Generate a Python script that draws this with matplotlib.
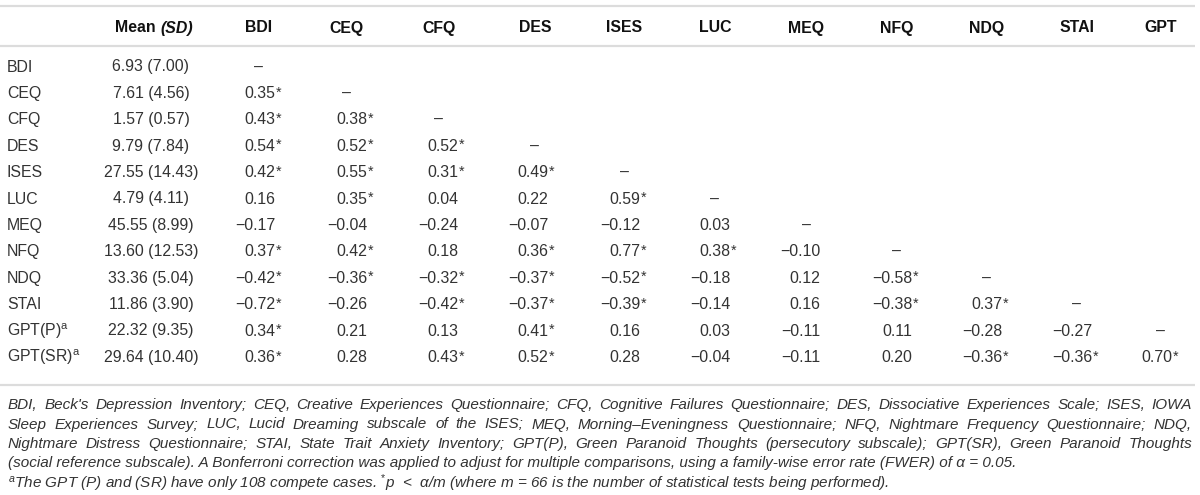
import matplotlib
matplotlib.use("Agg")
import matplotlib.pyplot as plt

plt.rcParams["font.family"] = ["Liberation Sans", "DejaVu Sans"]
plt.rcParams["mathtext.fontset"] = "custom"
plt.rcParams["mathtext.rm"] = "Liberation Sans"
plt.rcParams["mathtext.it"] = "Liberation Sans:italic"

# ---------------------------------------------------------------------
# data
# ---------------------------------------------------------------------
scales = ["BDI", "CEQ", "CFQ", "DES", "ISES", "LUC", "MEQ", "NFQ",
          "NDQ", "STAI", "GPT(P)", "GPT(SR)"]
row_sup = ["", "", "", "", "", "", "", "", "", "", "a", "a"]
col_heads = ["BDI", "CEQ", "CFQ", "DES", "ISES", "LUC", "MEQ", "NFQ",
             "NDQ", "STAI", "GPT"]

means = [6.93, 7.61, 1.57, 9.79, 27.55, 4.79, 45.55, 13.60, 33.36, 11.86,
         22.32, 29.64]
sds = [7.00, 4.56, 0.57, 7.84, 14.43, 4.11, 8.99, 12.53, 5.04, 3.90,
       9.35, 10.40]

# lower triangle of correlations, row i has i values
corr = [
    [],
    [0.35],
    [0.43, 0.38],
    [0.54, 0.52, 0.52],
    [0.42, 0.55, 0.31, 0.49],
    [0.16, 0.35, 0.04, 0.22, 0.59],
    [-0.17, -0.04, -0.24, -0.07, -0.12, 0.03],
    [0.37, 0.42, 0.18, 0.36, 0.77, 0.38, -0.10],
    [-0.42, -0.36, -0.32, -0.37, -0.52, -0.18, 0.12, -0.58],
    [-0.72, -0.26, -0.42, -0.37, -0.39, -0.14, 0.16, -0.38, 0.37],
    [0.34, 0.21, 0.13, 0.41, 0.16, 0.03, -0.11, 0.11, -0.28, -0.27],
    [0.36, 0.28, 0.43, 0.52, 0.28, -0.04, -0.11, 0.20, -0.36, -0.36, 0.70],
]
# 1 = significant after Bonferroni correction
sig = [
    [],
    [1],
    [1, 1],
    [1, 1, 1],
    [1, 1, 1, 1],
    [0, 1, 0, 0, 1],
    [0, 0, 0, 0, 0, 0],
    [1, 1, 0, 1, 1, 1, 0],
    [1, 1, 1, 1, 1, 0, 0, 1],
    [1, 0, 1, 1, 1, 0, 0, 1, 1],
    [1, 0, 0, 1, 0, 0, 0, 0, 0, 0],
    [1, 0, 1, 1, 0, 0, 0, 0, 1, 1, 1],
]

notes_justified = [
    "BDI, Beck's Depression Inventory; CEQ, Creative Experiences Questionnaire; "
    "CFQ, Cognitive Failures Questionnaire; DES, Dissociative Experiences Scale; "
    "ISES, IOWA",
    "Sleep Experiences Survey; LUC, Lucid Dreaming subscale of the ISES; MEQ, "
    "Morning\u2013Eveningness Questionnaire; NFQ, Nightmare Frequency Questionnaire; NDQ,",
    "Nightmare Distress Questionnaire; STAI, State Trait Anxiety Inventory; GPT(P), "
    "Green Paranoid Thoughts (persecutory subscale); GPT(SR), Green Paranoid Thoughts",
]
notes_plain = [
    "(social reference subscale). A Bonferroni correction was applied to adjust "
    "for multiple comparisons, using a family-wise error rate (FWER) of \u03b1 = 0.05.",
    "$^{a}$The GPT (P) and (SR) have only 108 compete cases. $^{*}$p  <  \u03b1/m "
    "(where m = 66 is the number of statistical tests being performed).",
]

# ---------------------------------------------------------------------
# layout (pixels)
# ---------------------------------------------------------------------
W, H = 1200, 495
label_x = 7
mean_x = 151
head_x = [259, 346, 439, 535, 624, 715, 806, 897, 987, 1077, 1161]
num_right = [275, 367, 458, 548, 640, 730, 820, 912, 1002, 1092, 1172]
head_y = 28
row_y0, row_dy = 67, 26.4
rule_ys = [6, 46, 385]
note_y0, note_dy = 405, 19.5

body_col = "#333333"
head_col = "#111111"
rule_col = "#dcdcdc"
fs = 11.4
fs_note = 11.0

fig = plt.figure(figsize=(W / 100, H / 100), dpi=100)
ax = fig.add_axes([0, 0, 1, 1])
ax.set_xlim(0, W)
ax.set_ylim(H, 0)
ax.axis("off")
renderer = fig.canvas.get_renderer()

for y in rule_ys:
    ax.plot([0, W - 5], [y, y], color=rule_col, lw=1.6, solid_capstyle="butt")

# header: "Mean " bold + "(SD)" bold italic, centred together
t1 = ax.text(0, head_y, "Mean ", ha="left", va="center", fontsize=fs,
             fontweight="bold", color=head_col)
t2 = ax.text(0, head_y, "(SD)", ha="left", va="center", fontsize=fs,
             fontweight="bold", style="italic", color=head_col)
w1 = t1.get_window_extent(renderer).width
w2 = t2.get_window_extent(renderer).width
start = mean_x + 3 - (w1 + w2) / 2
t1.set_x(start)
t2.set_x(start + w1)

for hx, name in zip(head_x, col_heads):
    ax.text(hx, head_y, name, ha="center", va="center", fontsize=fs,
            fontweight="bold", color=head_col)


def fmt(v):
    s = f"{abs(v):.2f}"
    return ("\u2212" + s) if v < 0 else s


for i, name in enumerate(scales):
    y = row_y0 + i * row_dy
    lab = name + (f"$^{{\\mathrm{{{row_sup[i]}}}}}$" if row_sup[i] else "")
    ax.text(label_x, y, lab, ha="left", va="center", fontsize=fs, color=body_col)
    ax.text(mean_x, y, f"{means[i]:.2f} ({sds[i]:.2f})", ha="center",
            va="center", fontsize=fs, color=body_col)
    for j, v in enumerate(corr[i]):
        ax.text(num_right[j], y, fmt(v), ha="right", va="center",
                fontsize=fs, color=body_col)
        if sig[i][j]:
            ax.text(num_right[j] + 0.5, y - 1, "*", ha="left", va="center",
                    fontsize=fs * 0.9, color=body_col)
    if i < len(col_heads):
        ax.text(head_x[i], y, "\u2013", ha="center", va="center",
                fontsize=fs, color=body_col)

# footnotes
x0, x1 = label_x + 1, 1192
for k, line in enumerate(notes_justified):
    y = note_y0 + k * note_dy
    words = line.split(" ")
    texts = [ax.text(0, y, w, ha="left", va="center", fontsize=fs_note,
                     style="italic", color=body_col) for w in words]
    widths = [t.get_window_extent(renderer).width for t in texts]
    gap = (x1 - x0 - sum(widths)) / (len(words) - 1)
    x = x0
    for t, w in zip(texts, widths):
        t.set_x(x)
        x += w + gap

for k, line in enumerate(notes_plain):
    y = note_y0 + (len(notes_justified) + k) * note_dy
    ax.text(x0, y, line, ha="left", va="center", fontsize=fs_note,
            style="italic", color=body_col)

fig.savefig("out.png", dpi=100)
